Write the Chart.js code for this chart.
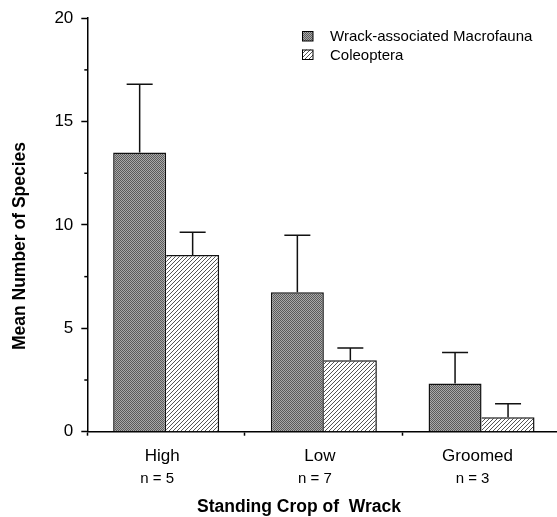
<!DOCTYPE html>
<html><head><meta charset="utf-8">
<script src="https://cdn.jsdelivr.net/npm/chart.js@4.4.0/dist/chart.umd.min.js"></script>
<style>html,body{margin:0;padding:0;overflow:hidden;background:#fff}canvas{display:block}</style>
</head><body>
<canvas id="c" width="562" height="517"></canvas>
<script>
const categories = ['High', 'Low', 'Groomed'];
const sampleSizes = ['n = 5', 'n = 7', 'n = 3'];
const seriesNames = ['Wrack-associated Macrofauna', 'Coleoptera'];
const macrofaunaMean = [13.5, 6.75, 2.33];
const macrofaunaSE = [3.3, 2.75, 1.5];
const coleopteraMean = [8.55, 3.45, 0.7];
const coleopteraSE = [1.1, 0.6, 0.65];
const yTicks = [0, 5, 10, 15, 20];
const yMinorTicks = [2.5, 7.5, 12.5, 17.5];
const yTitle = 'Mean Number of Species';
const xTitle = 'Standing Crop of  Wrack';

const FONT = "'Liberation Sans', Arial, sans-serif";
Chart.defaults.font.family = FONT;
Chart.defaults.color = '#000';

const canvas = document.getElementById('c');
const ctx = canvas.getContext('2d');

function makeChecker() {
  const t = document.createElement('canvas'); t.width = 2; t.height = 2;
  const g = t.getContext('2d');
  g.fillStyle = '#a9a9a9'; g.fillRect(0, 0, 2, 2);
  g.fillStyle = '#5a5a5a'; g.fillRect(0, 0, 1, 1); g.fillRect(1, 1, 1, 1);
  return ctx.createPattern(t, 'repeat');
}
function makeHatch() {
  const t = document.createElement('canvas'); t.width = 4; t.height = 4;
  const g = t.getContext('2d');
  g.fillStyle = '#ffffff'; g.fillRect(0, 0, 4, 4);
  g.fillStyle = '#555555';
  for (let i = 0; i < 4; i++) g.fillRect(i, 3 - i, 1, 1);
  return ctx.createPattern(t, 'repeat');
}
const checker = makeChecker();
const hatch = makeHatch();
const errors = [macrofaunaSE, coleopteraSE];

const errorBarPlugin = {
  id: 'errorBars',
  afterDatasetsDraw(chart) {
    const c = chart.ctx, y = chart.scales.y;
    c.save();
    c.strokeStyle = '#111'; c.lineWidth = 1.5;
    chart.data.datasets.forEach((ds, i) => {
      const meta = chart.getDatasetMeta(i);
      meta.data.forEach((el, j) => {
        const top = y.getPixelForValue(ds.data[j] + errors[i][j]);
        c.beginPath();
        c.moveTo(el.x, el.y); c.lineTo(el.x, top);
        c.moveTo(el.x - 13, top); c.lineTo(el.x + 13, top);
        c.stroke();
      });
    });
    c.restore();
  }
};

const decorPlugin = {
  id: 'decor',
  afterDraw(chart) {
    const c = chart.ctx, y = chart.scales.y, area = chart.chartArea;
    c.save();
    c.strokeStyle = '#000'; c.lineWidth = 1.5;
    yMinorTicks.forEach(v => {
      const py = y.getPixelForValue(v);
      c.beginPath(); c.moveTo(area.left - 3, py); c.lineTo(area.left, py); c.stroke();
    });
    c.fillStyle = '#000';
    c.font = "bold 17.5px " + FONT;
    c.textAlign = 'center'; c.textBaseline = 'middle';
    c.save(); c.translate(20, 246); c.rotate(-Math.PI / 2); c.fillText(yTitle, 0, 0); c.restore();
    c.textBaseline = 'alphabetic';
    c.fillText(xTitle, 299, 512);
    const fills = [checker, hatch];
    c.font = "15px " + FONT; c.textAlign = 'left';
    chart.data.datasets.forEach((ds, i) => {
      const sy = 31 + i * 18.5;
      c.fillStyle = fills[i]; c.fillRect(302, sy, 11, 10);
      c.strokeStyle = '#000'; c.lineWidth = 1; c.strokeRect(302.5, sy + 0.5, 10.5, 9.5);
      c.fillStyle = '#000'; c.fillText(ds.label, 330, sy + 10);
    });
    c.restore();
  }
};

new Chart(canvas, {
  type: 'bar',
  data: {
    labels: categories,
    datasets: [
      { label: seriesNames[0], data: macrofaunaMean, backgroundColor: checker, borderColor: '#111',
        borderWidth: { top: 1.5, left: 1.5, right: 1.5, bottom: 0 }, borderSkipped: false },
      { label: seriesNames[1], data: coleopteraMean, backgroundColor: hatch, borderColor: '#111',
        borderWidth: { top: 1.5, left: 0, right: 1.5, bottom: 0 }, borderSkipped: false }
    ]
  },
  options: {
    responsive: false, animation: false,
    categoryPercentage: 0.672, barPercentage: 1,
    layout: { padding: { top: 14.7, right: 1.6, bottom: 0, left: 0 } },
    plugins: { legend: { display: false }, tooltip: { enabled: false } },
    scales: {
      y: {
        min: 0, max: 20,
        afterBuildTicks: s => { s.ticks = yTicks.map(v => ({ value: v })); },
        ticks: { font: { size: 17 }, color: '#000', padding: 8 },
        grid: { drawOnChartArea: false, tickLength: 6, color: '#000', tickWidth: 1.5 },
        border: { color: '#000', width: 1.5 },
        afterFit: s => { s.width = 87.3; }
      },
      x: {
        weight: 0,
        ticks: { font: { size: 17 }, color: '#000', padding: 10, labelOffset: -4 },
        grid: { drawOnChartArea: false, tickLength: 4, color: '#000', tickWidth: 1.5, offset: true },
        border: { color: '#000', width: 1.5 },
        afterFit: s => { s.height = 34; }
      },
      x2: {
        type: 'category', position: 'bottom', weight: 1, offset: true,
        labels: sampleSizes,
        ticks: { font: { size: 15 }, color: '#000', padding: 4, labelOffset: -9 },
        grid: { display: false, drawTicks: false, offset: true },
        border: { display: false },
        afterFit: s => { s.height = 51.3; }
      }
    }
  },
  plugins: [errorBarPlugin, decorPlugin]
});
</script>
</body></html>
